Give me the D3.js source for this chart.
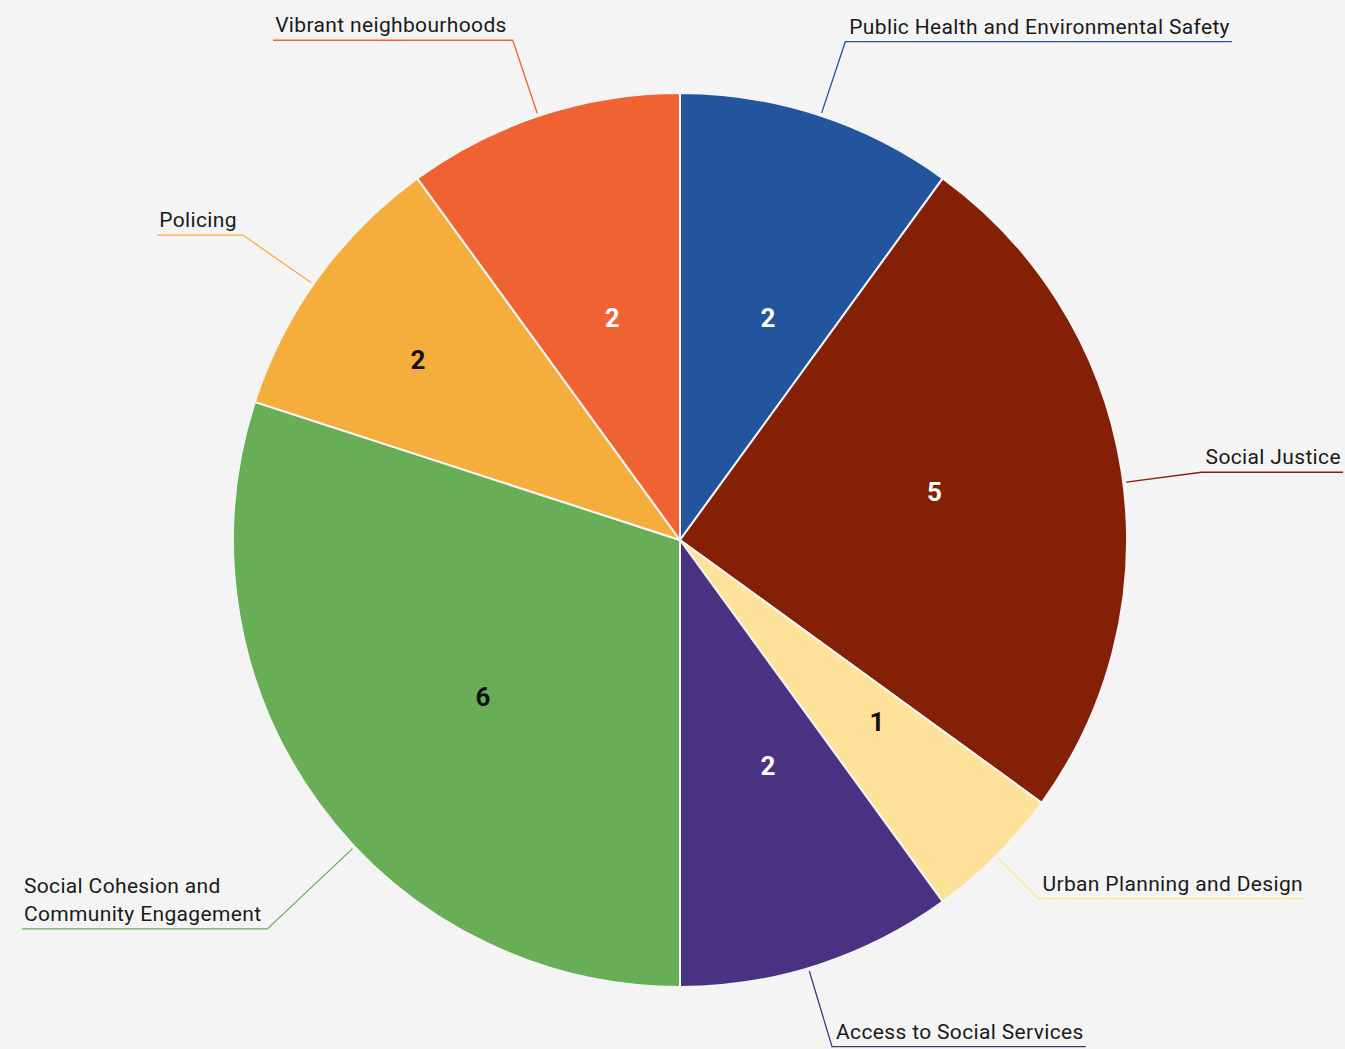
<!DOCTYPE html>
<html>
<head>
<meta charset="utf-8">
<script src="https://cdn.jsdelivr.net/npm/d3@7"></script>
<style>
  body { margin: 0; background: #f4f4f4; }
  svg { display: block; }
</style>
</head>
<body>
<svg id="chart" width="1345" height="1049"></svg>
<script>
// data
const categories = [
  "Public Health and Environmental Safety",
  "Social Justice",
  "Urban Planning and Design",
  "Access to Social Services",
  "Social Cohesion and Community Engagement",
  "Policing",
  "Vibrant neighbourhoods"
];
const values = [2, 5, 1, 2, 6, 2, 2];
const colors = ["#23559e", "#832005", "#ffe29a", "#4a3282", "#68ae57", "#f5ad3c", "#ef6333"];
const valueColors = ["#fff", "#fff", "#111", "#fff", "#111", "#111", "#fff"];

// label text lines (the long one wraps)
const labelLines = [
  ["Public Health and Environmental Safety"],
  ["Social Justice"],
  ["Urban Planning and Design"],
  ["Access to Social Services"],
  ["Social Cohesion and", "Community Engagement"],
  ["Policing"],
  ["Vibrant neighbourhoods"]
];
// leader layout: elbow distance and angle nudge (degrees)
const elbowR = [525, 526, 507, 529, 567, 533, 527];
const leaderNudge = [0.35, 1.6, 0, 1.3, -7.3, -1.1, -0.5];
// value label layout: distance from centre and angle nudge (degrees)
const valueR = [239, 259, 268, 242, 252, 318, 232];
const valueNudge = [3.6, -1.7, -2.3, -3.3, -2.6, -1.5, 1];

const width = 1345, height = 1049;
const cx = 680, cy = 540, radius = 447;
const rad = Math.PI / 180;

const svg = d3.select("#chart");
const g = svg.append("g").attr("transform", `translate(${cx},${cy})`);

const data = categories.map((c, i) => ({ name: c, value: values[i], i }));

const pie = d3.pie().value(d => d.value).sort(null);
const arcs = pie(data);

const arc = d3.arc().innerRadius(0).outerRadius(radius);

g.selectAll("path.slice")
  .data(arcs)
  .join("path")
    .attr("class", "slice")
    .attr("d", arc)
    .attr("fill", d => colors[d.data.i])
    .attr("stroke", "#f4f4f4")
    .attr("stroke-width", 2);

const pt = (a, r) => [Math.sin(a) * r, -Math.cos(a) * r];

// values inside the slices
g.selectAll("text.value")
  .data(arcs)
  .join("text")
    .attr("class", "value")
    .attr("transform", d => {
      const a = (d.startAngle + d.endAngle) / 2 + valueNudge[d.data.i] * rad;
      return `translate(${pt(a, valueR[d.data.i])})`;
    })
    .attr("text-anchor", "middle")
    .attr("dy", "0.35em")
    .attr("font-family", "Roboto, sans-serif")
    .attr("font-weight", "bold")
    .attr("font-size", 26)
    .attr("fill", d => valueColors[d.data.i])
    .text(d => d.data.value);

// outside labels with leader lines
arcs.forEach(d => {
  const i = d.data.i;
  const mid = (d.startAngle + d.endAngle) / 2 + leaderNudge[i] * rad;
  const p0 = pt(mid, radius + 3);
  const p1 = pt(mid, elbowR[i]);
  const right = Math.sin(mid) > 0;
  const lines = labelLines[i];
  const lineH = 28;

  const t = g.append("text")
    .attr("font-family", "Roboto, sans-serif")
    .attr("font-size", 21)
    .attr("letter-spacing", 0.35)
    .attr("fill", "#1a1a1a");
  const spans = lines.map((l, k) => t.append("tspan")
    .attr("y", p1[1] - 8 - (lines.length - 1 - k) * lineH)
    .text(l));
  const w = d3.max(spans, s => s.node().getComputedTextLength());
  const x0 = right ? p1[0] + 4 : p1[0] - 6 - w;
  spans.forEach(s => s.attr("x", x0));
  const p2 = [right ? x0 + w + 2 : x0 - 2, p1[1]];

  g.append("polyline")
    .attr("points", [p0, p1, p2].map(p => p.join(",")).join(" "))
    .attr("fill", "none")
    .attr("stroke", colors[i])
    .attr("stroke-width", 1.3);
});
</script>
</body>
</html>
